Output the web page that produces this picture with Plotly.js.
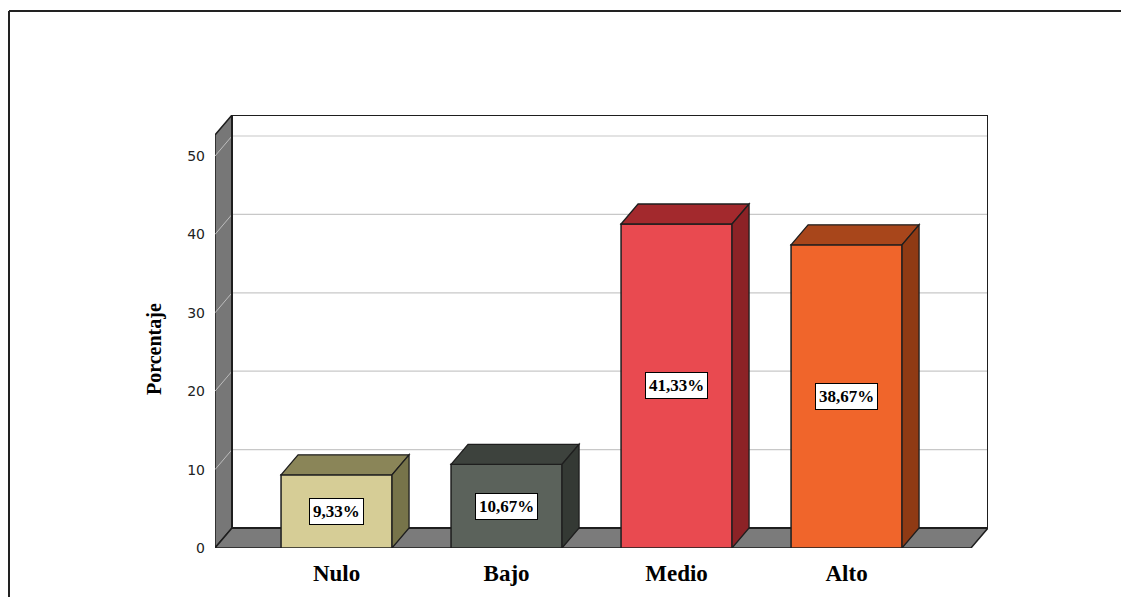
<!DOCTYPE html>
<html>
<head>
<meta charset="utf-8">
<script src="https://cdn.plot.ly/plotly-3.0.1.min.js"></script>
<style>
html,body{margin:0;padding:0;background:#fff;}
#chart{width:1121px;height:597px;}
</style>
</head>
<body>
<div id="chart"></div>
<script>
// ---- data ----
const categories = ["Nulo", "Bajo", "Medio", "Alto"];
const percentages = [9.33, 10.67, 41.33, 38.67];
const yTicks = [0, 10, 20, 30, 40, 50];
const frontColors = ["#D6CD96", "#5B625B", "#E94A50", "#F0652B"];
const topColors   = ["#8A8558", "#3D423D", "#A3292D", "#A8461B"];
const sideColors  = ["#77744A", "#343934", "#8C2226", "#8F3A14"];

// ---- geometry (pixels -> data units) ----
const W = 1121, H = 597;
const mL = 215, mR = 133, mT = 115, mB = 49;
const plotW = W - mL - mR, plotH = H - mT - mB;
const xMin = -0.715, xMax = 3.832;
const yMax = 55.23;
const pxPerX = plotW / (xMax - xMin);
const pxPerY = plotH / (yMax - 0);
const DX = 17 / pxPerX;    // depth offset (x)
const DY = 20 / pxPerY;    // depth offset (y)
const barW = 111 / pxPerX;
const xs = categories.map((c, i) => i);

const edge = "#1e1e1e";
const shapes = [];

// outer frame (left + top lines)
const px2paperX = p => (p - mL) / plotW;
const px2paperY = p => (H - mB - p) / plotH;
shapes.push({type:"line", xref:"paper", yref:"paper", x0:px2paperX(9), x1:px2paperX(9), y0:px2paperY(11), y1:px2paperY(H+5), line:{color:"#222", width:2}, layer:"below"});
shapes.push({type:"line", xref:"paper", yref:"paper", x0:px2paperX(9), x1:px2paperX(W+5), y0:px2paperY(11), y1:px2paperY(11), line:{color:"#222", width:2}, layer:"below"});

// back wall
shapes.push({type:"rect", xref:"x", yref:"y", x0:xMin+DX, x1:xMax, y0:DY, y1:yMax, fillcolor:"#ffffff", line:{color:edge, width:2}, layer:"below"});
// left wall
shapes.push({type:"path", xref:"x", yref:"y",
  path:`M ${xMin} 0 L ${xMin+DX} ${DY} L ${xMin+DX} ${yMax} L ${xMin} ${yMax-DY} Z`,
  fillcolor:"#777777", line:{color:edge, width:1.5}, layer:"below"});
// floor
shapes.push({type:"path", xref:"x", yref:"y",
  path:`M ${xMin} 0 L ${xMax-DX} 0 L ${xMax} ${DY} L ${xMin+DX} ${DY} Z`,
  fillcolor:"#7b7b7b", line:{color:edge, width:1.5}, layer:"below"});
// gridlines
yTicks.filter(v => v > 0).forEach(v => {
  shapes.push({type:"line", xref:"x", yref:"y", x0:xMin+DX, x1:xMax, y0:v+DY, y1:v+DY, line:{color:"#c8c8c8", width:1.2}, layer:"below"});
  shapes.push({type:"line", xref:"x", yref:"y", x0:xMin, x1:xMin+DX, y0:v, y1:v+DY, line:{color:"#bdbdbd", width:1}, layer:"below"});
});
// re-draw back wall border on top of gridlines
shapes.push({type:"rect", xref:"x", yref:"y", x0:xMin+DX, x1:xMax, y0:DY, y1:yMax, fillcolor:"rgba(0,0,0,0)", line:{color:edge, width:2}, layer:"below"});
shapes.push({type:"line", xref:"x", yref:"y", x0:xMin+DX, x1:xMin+DX, y0:DY, y1:yMax, line:{color:edge, width:2}, layer:"below"});

// 3D faces of bars (top + side)
percentages.forEach((v, i) => {
  const xl = xs[i] - barW/2, xr = xs[i] + barW/2;
  shapes.push({type:"path", xref:"x", yref:"y",
    path:`M ${xl} ${v} L ${xl+DX} ${v+DY} L ${xr+DX} ${v+DY} L ${xr} ${v} Z`,
    fillcolor:topColors[i], line:{color:edge, width:1.3}, layer:"above"});
  shapes.push({type:"path", xref:"x", yref:"y",
    path:`M ${xr} 0 L ${xr+DX} ${DY} L ${xr+DX} ${v+DY} L ${xr} ${v} Z`,
    fillcolor:sideColors[i], line:{color:edge, width:1.3}, layer:"above"});
});

const annotations = percentages.map((v, i) => ({
  x: xs[i], y: v/2, xref:"x", yref:"y",
  text: v.toFixed(2).replace(".", ",") + "%",
  showarrow:false,
  font:{family:"Liberation Serif, serif", size:17, color:"#000", weight:"bold"},
  bgcolor:"#ffffff", bordercolor:"#000", borderwidth:1, borderpad:3
}));
annotations.push({
  text:"Porcentaje", textangle:-90, showarrow:false,
  xref:"paper", yref:"paper", x:px2paperX(154), y:px2paperY(349),
  xanchor:"center", yanchor:"middle",
  font:{family:"Liberation Serif, serif", size:20, color:"#000", weight:"bold"}
});

const trace = {
  type:"bar", x:xs, y:percentages, width:barW,
  marker:{color:frontColors, line:{color:edge, width:1.5}},
  hoverinfo:"none"
};

const layout = {
  width:W, height:H,
  margin:{l:mL, r:mR, t:mT, b:mB, pad:0},
  paper_bgcolor:"#ffffff", plot_bgcolor:"rgba(0,0,0,0)",
  showlegend:false,
  xaxis:{range:[xMin, xMax], tickvals:xs, ticktext:categories, showgrid:false, zeroline:false, showline:false,
         ticks:"", ticklabelstandoff:9, tickfont:{family:"Liberation Serif, serif", size:23, color:"#000", weight:"bold"}},
  yaxis:{range:[0, yMax], tickvals:yTicks, showgrid:false, zeroline:false, showline:false,
         ticks:"", ticklabelstandoff:9, tickfont:{family:"DejaVu Sans, sans-serif", size:14, color:"#222"}},
  shapes:shapes, annotations:annotations
};

Plotly.newPlot("chart", [trace], layout, {staticPlot:true, displayModeBar:false});
</script>
</body>
</html>
